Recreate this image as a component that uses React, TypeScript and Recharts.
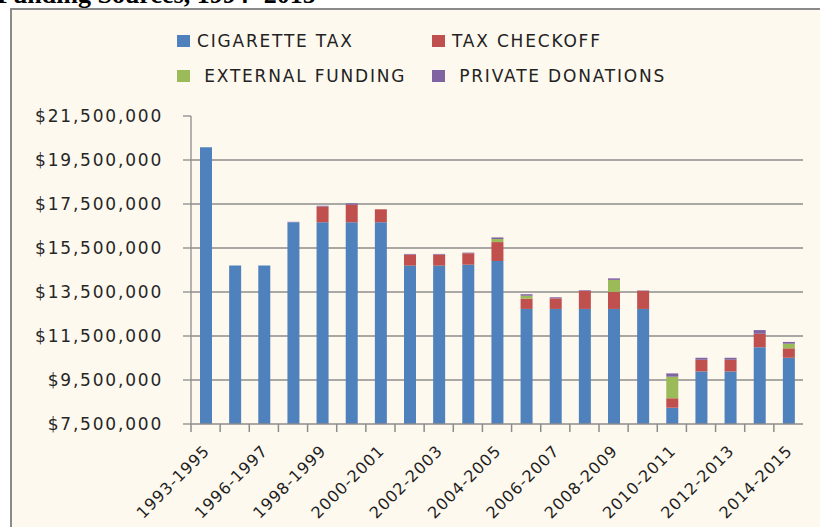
import { BarChart, Bar, XAxis, YAxis, CartesianGrid } from 'recharts';

const periods = [
  '1993-1995', '1995-1996', '1996-1997', '1997-1998', '1998-1999', '1999-2000',
  '2000-2001', '2001-2002', '2002-2003', '2003-2004', '2004-2005', '2005-2006',
  '2006-2007', '2007-2008', '2008-2009', '2009-2010', '2010-2011', '2011-2012',
  '2012-2013', '2013-2014', '2014-2015',
];

const cigaretteTax = [
  20080000, 14700000, 14700000, 16670000, 16670000, 16670000,
  16670000, 14700000, 14700000, 14740000, 14910000, 12730000,
  12730000, 12730000, 12730000, 12730000, 8240000, 9890000,
  9890000, 10990000, 10510000,
];

const taxCheckoff = [
  0, 0, 0, 0, 710000, 800000,
  590000, 500000, 500000, 520000, 860000, 470000,
  480000, 820000, 780000, 820000, 430000, 530000,
  530000, 610000, 430000,
];

const externalFunding = [
  0, 0, 0, 0, 0, 0,
  0, 0, 0, 0, 140000, 130000,
  0, 0, 540000, 0, 980000, 0,
  0, 0, 210000,
];

const privateDonations = [
  0, 0, 0, 20000, 40000, 60000,
  0, 30000, 30000, 30000, 70000, 70000,
  50000, 30000, 70000, 20000, 150000, 90000,
  90000, 170000, 80000,
];

const yTicks = [7500000, 9500000, 11500000, 13500000, 15500000, 17500000, 19500000, 21500000];

const SERIES = [
  { key: 'cigarette', name: 'CIGARETTE TAX', color: '#4F81BD' },
  { key: 'checkoff', name: 'TAX CHECKOFF', color: '#C0504D' },
  { key: 'external', name: ' EXTERNAL FUNDING', color: '#9BBB59' },
  { key: 'private', name: ' PRIVATE DONATIONS', color: '#8064A2' },
];

const data = periods.map((period, i) => ({
  period,
  cigarette: cigaretteTax[i],
  checkoff: taxCheckoff[i],
  external: externalFunding[i],
  private: privateDonations[i],
}));

const W = 820;
const H = 527;
const PLOT_LEFT = 191;
const PLOT_RIGHT = 17;
const PLOT_TOP = 116;
const PLOT_BOTTOM = 424;
const BAND = (W - PLOT_LEFT - PLOT_RIGHT) / periods.length;
const FONT = "'DejaVu Sans', sans-serif";
const GRID = '#8c8c8c';

const money = (v: number) => '$' + v.toLocaleString('en-US');

function XTick(props: any) {
  const { x, payload, index } = props;
  const y = PLOT_BOTTOM;
  const left = Number(x) - BAND / 2;
  const lx = Number(x) + 5;
  const ly = y + 28;
  return (
    <g>
      <path d={`M${left},${y}V${y + 8}`} stroke={GRID} strokeWidth={1.5} fill="none" />
      {index % 2 === 0 && (
        <text
          x={lx}
          y={ly}
          textAnchor="end"
          fill="#1e1e1e"
          fontSize={16}
          fontFamily={FONT}
          letterSpacing={0.9}
          transform={`rotate(-45, ${lx}, ${ly})`}
        >
          {payload.value}
        </text>
      )}
    </g>
  );
}

function LegendBox() {
  return (
    <div style={{ position: 'absolute', left: 177, top: 29, width: 560, fontFamily: FONT, fontSize: 17, letterSpacing: 1.8, color: '#222' }}>
      {SERIES.map((s, i) => (
        <div
          key={s.key}
          style={{
            position: 'absolute',
            left: (i % 2) * 255,
            top: Math.floor(i / 2) * 35,
            display: 'flex',
            alignItems: 'center',
            height: 24,
            whiteSpace: 'pre',
          }}
        >
          <span style={{ display: 'inline-block', width: 13, height: 12, background: s.color, marginRight: 7 }} />
          <span>{s.name}</span>
        </div>
      ))}
    </div>
  );
}

export default function App() {
  return (
    <div style={{ position: 'absolute', left: 0, top: 0, width: W, height: H, overflow: 'hidden', background: '#fff' }}>
      <div
        style={{
          position: 'absolute',
          left: -3,
          top: -18,
          fontFamily: "'Liberation Serif', serif",
          fontWeight: 'bold',
          fontSize: 26,
          lineHeight: '26px',
          color: '#000',
          whiteSpace: 'pre',
        }}
      >
        Funding Sources, 1994- 2015
      </div>
      <div
        style={{
          position: 'absolute',
          left: 10,
          top: 8,
          width: W + 10,
          height: H + 10,
          border: '2px solid #8a8a8a',
          background: '#FEF9EE',
        }}
      />
      <LegendBox />
      <div style={{ position: 'absolute', left: 0, top: 0 }}>
        <BarChart
          width={W}
          height={H}
          data={data}
          margin={{ top: PLOT_TOP, right: PLOT_RIGHT, bottom: 0, left: 0 }}
          barSize={12}
        >
          <CartesianGrid vertical={false} stroke={GRID} strokeWidth={1.3} horizontalValues={yTicks.slice(1, -1)} />
          <XAxis
            dataKey="period"
            interval={0}
            tickLine={false}
            tickSize={0}
            tickMargin={0}
            axisLine={{ stroke: GRID, strokeWidth: 1.3 }}
            tick={(p: any) => <XTick {...p} />}
            height={H - PLOT_BOTTOM}
          />
          <YAxis
            width={PLOT_LEFT}
            domain={[7500000, 21500000]}
            ticks={yTicks}
            allowDataOverflow
            tickFormatter={money}
            tickSize={8}
            tickMargin={20}
            axisLine={{ stroke: GRID, strokeWidth: 1.3 }}
            tickLine={{ stroke: GRID, strokeWidth: 1.3 }}
            tick={{ fill: '#262626', fontSize: 17, fontFamily: FONT, letterSpacing: 1.8 }}
          />
          {SERIES.map((s) => (
            <Bar key={s.key} dataKey={s.key} name={s.name.trim()} stackId="a" fill={s.color} isAnimationActive={false} />
          ))}
        </BarChart>
      </div>
    </div>
  );
}
